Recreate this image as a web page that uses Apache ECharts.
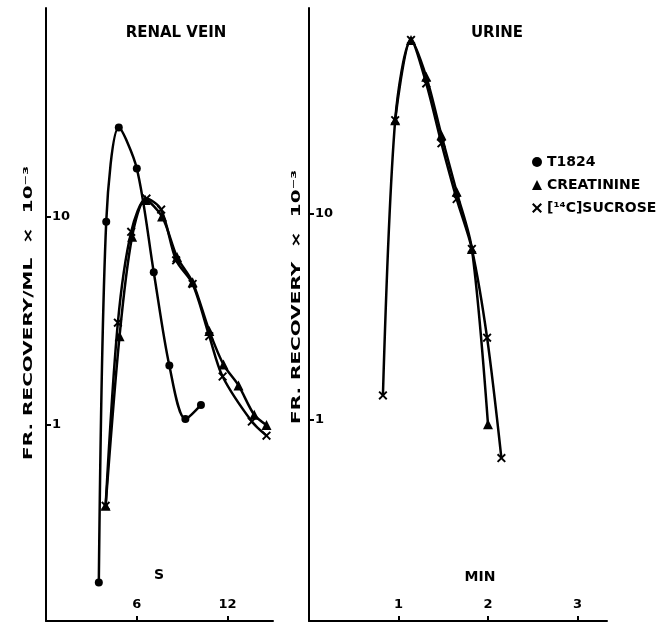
<!DOCTYPE html>
<html>
<head>
<meta charset="utf-8">
<script src="https://cdn.jsdelivr.net/npm/echarts@6/dist/echarts.min.js"></script>
<style>
html,body{margin:0;padding:0;background:#fff;}
#chart{width:670px;height:623px;}
</style>
</head>
<body>
<div id="chart"></div>
<script>
// ---- Data ----
// Renal vein panel (x in seconds)
const rvT1824Time = [3.49, 3.98, 4.81, 6.0, 7.12, 8.15, 9.21, 10.24];
const rvT1824 = [0.176, 9.45, 26.7, 17.0, 5.41, 1.93, 1.07, 1.25];
const rvCreatTime = [3.94, 4.86, 5.69, 6.57, 7.67, 8.66, 9.69, 10.79, 11.73, 12.72, 13.76, 14.57];
const rvCreat = [0.41, 2.67, 8.0, 12.0, 10.0, 6.4, 4.84, 2.83, 1.95, 1.55, 1.12, 1.0];
const rvSucTime = [3.94, 4.75, 5.63, 6.64, 7.61, 8.60, 9.69, 10.79, 11.67, 13.60, 14.57];
const rvSuc = [0.41, 3.1, 8.45, 12.2, 10.8, 6.17, 4.75, 2.67, 1.71, 1.04, 0.89];
// Urine panel (x in minutes)
const uSucTime = [0.826, 0.963, 1.14, 1.31, 1.48, 1.65, 1.82, 1.99, 2.15];
const uSuc = [1.31, 28.5, 70, 43, 22, 11.8, 6.75, 2.5, 0.65];
const uCreatTime = [0.963, 1.14, 1.31, 1.48, 1.65, 1.82, 2.0];
const uCreat = [28.5, 70, 46.4, 24.1, 12.8, 6.75, 0.95];
// Tick labels
const rvXTicks = [6, 12];
const uXTicks = [1, 2, 3];
const yTicks = [1, 10];
const seriesNames = ['T1824', 'CREATININE', 'SUCROSE'];

const zip = (a, b) => a.map((v, i) => [v, b[i]]);
const FONT = 'DejaVu Sans';
const crossPath = 'path://M0,1.5L1.5,0L5,3.5L8.5,0L10,1.5L6.5,5L10,8.5L8.5,10L5,6.5L1.5,10L0,8.5L3.5,5Z';
const symbols = { 'T1824': 'circle', 'CREATININE': 'triangle', 'SUCROSE': crossPath };
const symSizes = { 'T1824': 8, 'CREATININE': 10, 'SUCROSE': 9 };

function mkSeries(name, xi, data) {
  return {
    name: name, type: 'line', xAxisIndex: xi, yAxisIndex: xi,
    data: data, smooth: 0.3, symbol: symbols[name], symbolSize: symSizes[name],
    showSymbol: true,
    itemStyle: { color: '#000' },
    lineStyle: { color: '#000', width: 2.5 },
    emphasis: { disabled: true }, animation: false
  };
}

function xAxis(gi, min, max, ticks) {
  return {
    type: 'value', gridIndex: gi, min: min, max: max,
    axisLine: { show: true, lineStyle: { color: '#000', width: 2 } },
    axisTick: { show: true, inside: true, length: 5, customValues: ticks, lineStyle: { color: '#000', width: 2 } },
    axisLabel: { show: true, inside: true, margin: 10, customValues: ticks, color: '#000',
      fontFamily: FONT, fontWeight: 'bold', fontSize: 13 },
    splitLine: { show: false }
  };
}
function yAxis(gi, min, max) {
  return {
    type: 'log', logBase: 10, gridIndex: gi, min: min, max: max,
    axisLine: { show: true, lineStyle: { color: '#000', width: 2 } },
    axisTick: { show: true, inside: true, length: 5, customValues: yTicks, lineStyle: { color: '#000', width: 2 } },
    axisLabel: { show: true, inside: true, margin: 6, customValues: yTicks, color: '#000',
      fontFamily: FONT, fontWeight: 'bold', fontSize: 13,
      formatter: v => String(Math.round(v)) },
    splitLine: { show: false }
  };
}

function txt(x, y, text, size, rot, sx) {
  return {
    type: 'text', x: x, y: y, rotation: rot || 0, scaleX: sx || 1,
    style: { text: text, x: 0, y: 0, fill: '#000', font: 'bold ' + size + 'px "' + FONT + '"',
      textAlign: 'center', textVerticalAlign: 'middle', verticalAlign: 'middle' }
  };
}

const option = {
  animation: false,
  backgroundColor: '#fff',
  grid: [
    { left: 46, top: 8, width: 227, height: 613 },
    { left: 309, top: 8, width: 298, height: 613 }
  ],
  xAxis: [xAxis(0, 0, 15, rvXTicks), xAxis(1, 0, 3.33, uXTicks)],
  yAxis: [yAxis(0, 0.115, 100), yAxis(1, 0.105, 100)],
  legend: {
    orient: 'vertical', left: 527, top: 150, itemGap: 9, itemWidth: 10, itemHeight: 10,
    selectedMode: false,
    textStyle: { color: '#000', fontFamily: FONT, fontWeight: 'bold', fontSize: 14 },
    formatter: n => n === 'SUCROSE' ? '[¹⁴C]SUCROSE' : n,
    data: seriesNames.map(n => ({ name: n, icon: symbols[n], itemStyle: { color: '#000' } }))
  },
  graphic: [
    txt(176, 33, 'RENAL VEIN', 15),
    txt(497, 33, 'URINE', 15),
    txt(159, 575, 'S', 14),
    txt(480, 577, 'MIN', 14),
    txt(29, 313, 'FR. RECOVERY/ML  ×  10⁻³', 12.5, Math.PI / 2, 1.6),
    txt(297, 297, 'FR. RECOVERY  ×  10⁻³', 12.5, Math.PI / 2, 1.6)
  ],
  series: [
    mkSeries('T1824', 0, zip(rvT1824Time, rvT1824)),
    mkSeries('CREATININE', 0, zip(rvCreatTime, rvCreat)),
    mkSeries('SUCROSE', 0, zip(rvSucTime, rvSuc)),
    mkSeries('CREATININE', 1, zip(uCreatTime, uCreat)),
    mkSeries('SUCROSE', 1, zip(uSucTime, uSuc))
  ]
};

const chart = echarts.init(document.getElementById('chart'), null, { renderer: 'canvas' });
chart.setOption(option);
</script>
</body>
</html>
